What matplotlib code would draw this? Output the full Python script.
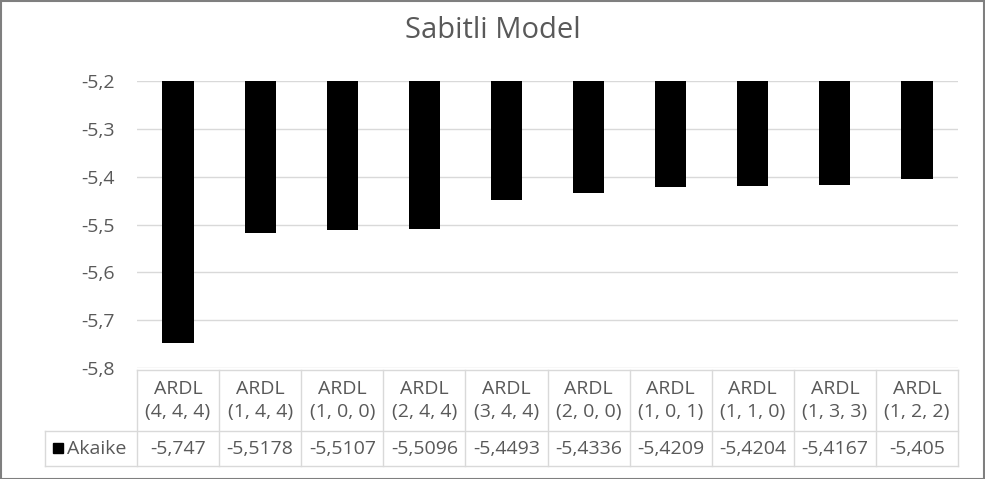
import matplotlib
matplotlib.use("Agg")
import matplotlib.pyplot as plt
from matplotlib.patches import Rectangle
from matplotlib.lines import Line2D
import numpy as np

categories = ["ARDL\n(4, 4, 4)", "ARDL\n(1, 4, 4)", "ARDL\n(1, 0, 0)", "ARDL\n(2, 4, 4)",
              "ARDL\n(3, 4, 4)", "ARDL\n(2, 0, 0)", "ARDL\n(1, 0, 1)", "ARDL\n(1, 1, 0)",
              "ARDL\n(1, 3, 3)", "ARDL\n(1, 2, 2)"]
values = [-5.747, -5.5178, -5.5107, -5.5096, -5.4493, -5.4336, -5.4209, -5.4204, -5.4167, -5.405]
value_labels = ["-5,747", "-5,5178", "-5,5107", "-5,5096", "-5,4493", "-5,4336",
                "-5,4209", "-5,4204", "-5,4167", "-5,405"]
yticks = [-5.2, -5.3, -5.4, -5.5, -5.6, -5.7, -5.8]
ytick_labels = ["-5,2", "-5,3", "-5,4", "-5,5", "-5,6", "-5,7", "-5,8"]
series_name = "Akaike"
title = "Sabitli Model"
base = -5.2

plt.rcParams['font.family'] = ['Open Sans', 'DejaVu Sans']
W, H = 985, 479
fig = plt.figure(figsize=(W / 100, H / 100), dpi=100)

def fx(px): return px / W
def fy(py): return 1 - py / H

L, R, T, B = 137, 958, 81, 368
ax = fig.add_axes([fx(L), fy(B), fx(R) - fx(L), fy(T) - fy(B)])
x = np.arange(len(categories))
heights = [v - base for v in values]
ax.bar(x, heights, bottom=base, width=0.38, color="black", zorder=3)
ax.set_xlim(-0.5, len(categories) - 0.5)
ax.set_ylim(-5.8, -5.2)
ax.set_yticks(yticks)
ax.set_yticklabels(ytick_labels, fontsize=14, color="#595959")
ax.tick_params(axis='y', length=0, pad=16)
ax.set_xticks([])
ax.grid(axis='y', color="#d9d9d9", linewidth=1, zorder=0)
for s in ax.spines.values():
    s.set_visible(False)

fig.text(0.5, fy(31), title, ha="center", va="center", fontsize=21, color="#595959")

# data table
gc = "#d9d9d9"
colw = (R - L) / len(categories)
y_top, y_mid, y_bot = 370, 431, 466
lines = [((L, R), (y_top, y_top)), ((45, R), (y_mid, y_mid)), ((45, R), (y_bot, y_bot)),
         ((45, 45), (y_mid, y_bot))]
for i in range(len(categories) + 1):
    xx = L + i * colw
    lines.append(((xx, xx), (y_top, y_bot)))
for (xs, ys) in lines:
    fig.add_artist(Line2D([fx(xs[0]), fx(xs[1])], [fy(ys[0]), fy(ys[1])],
                          color=gc, linewidth=1, transform=fig.transFigure))
for i, (c, vl) in enumerate(zip(categories, value_labels)):
    cx = L + (i + 0.5) * colw
    fig.text(fx(cx), fy((y_top + y_mid) / 2), c, ha="center", va="center",
             fontsize=14, color="#595959", linespacing=1.35)
    fig.text(fx(cx), fy((y_mid + y_bot) / 2), vl, ha="center", va="center",
             fontsize=14, color="#595959")
fig.add_artist(Rectangle((fx(53), fy(453)), fx(10), fy(443) - fy(453), color="black",
                         transform=fig.transFigure))
fig.text(fx(67), fy((y_mid + y_bot) / 2), series_name, ha="left", va="center",
         fontsize=14, color="#595959")

# outer frame
fig.add_artist(Rectangle((0.001, 0.001), 0.998, 0.997, fill=False, edgecolor="#7f7f7f",
                         linewidth=1.5, transform=fig.transFigure))

fig.savefig("out.png", dpi=100, facecolor="white")
